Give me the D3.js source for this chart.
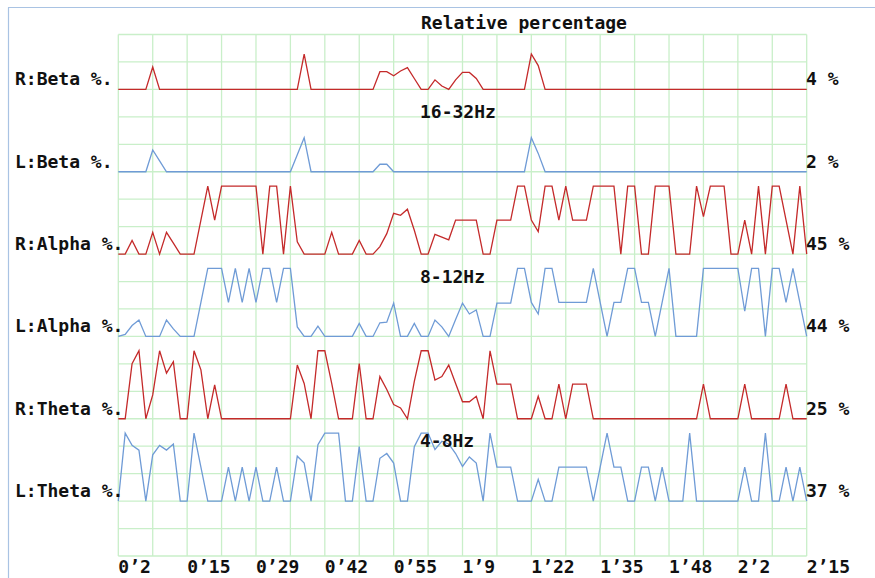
<!DOCTYPE html>
<html>
<head>
	<meta charset="UTF-8" />
	<title>relative percentage</title>
	<script src="https://d3js.org/d3.v7.min.js"></script>
	<style>
		body { margin: 0; background: #fff; }
		text { font-family: "DejaVu Sans Mono", monospace; font-weight: bold; font-size: 18px; fill: #111; }
	</style>
</head>
<body>
	<svg id="chart" width="875" height="578"></svg>

	<script type="text/javascript">
	// colors
	red = "#c42a2a"
	blue = "#6f9bd6"
	gridGreen = "#c9efc9"
	frameBlue = "#a9c3e3"

	// data: relative level of each band, 101 samples (0 = baseline, 100 = top of band)
	var rBeta = [0,0,0,0,0,33,0,0,0,0, 0,0,0,0,0,0,0,0,0,0, 0,0,0,0,0,0,0,52,0,0, 0,0,0,0,0,0,0,0,26,26,
		20,27,32,16,0,0,14,5,0,14, 25,25,16,0,0,0,0,0,0,0, 52,35,0,0,0,0,0,0,0,0, 0,0,0,0,0,0,0,0,0,0,
		0,0,0,0,0,0,0,0,0,0, 0,0,0,0,0,0,0,0,0,0, 0]
	var lBeta = [0,0,0,0,0,32,16,0,0,0, 0,0,0,0,0,0,0,0,0,0, 0,0,0,0,0,0,25,50,0,0, 0,0,0,0,0,0,0,0,11,11,
		0,0,0,0,0,0,0,0,0,0, 0,0,0,0,0,0,0,0,0,0, 50,27,0,0,0,0,0,0,0,0, 0,0,0,0,0,0,0,0,0,0,
		0,0,0,0,0,0,0,0,0,0, 0,0,0,0,0,0,0,0,0,0, 0]
	var rAlpha = [0,0,20,0,0,32,0,32,16,0, 0,0,50,100,50,100,100,100,100,100, 100,0,100,100,0,100,18,0,0,0,
		0,32,0,0,0,20,0,0,11,30, 60,57,66,35,0,0,29,25,21,50, 50,50,50,0,0,50,50,50,100,100,
		50,33,100,100,50,100,50,50,50,100, 100,100,100,0,100,100,0,0,100,100, 100,0,0,0,100,55,100,100,100,0,
		0,50,0,100,0,100,100,50,0,100, 0]
	var lAlpha = [0,3,16,24,0,0,0,24,11,0, 0,0,50,100,100,100,50,100,50,100, 50,100,100,50,100,100,14,0,0,15,
		0,0,0,0,0,19,0,0,20,21, 49,0,0,19,0,0,24,14,0,25, 49,33,39,0,0,49,49,49,100,100,
		50,33,100,100,50,50,50,50,50,100, 50,0,50,50,100,100,50,50,0,50, 100,0,0,0,0,100,100,100,100,100,
		100,37,100,100,0,100,100,50,100,50, 0]
	var rTheta = [0,0,81,100,0,35,100,67,84,0, 0,100,72,0,50,0,0,0,0,0, 0,0,0,0,0,0,79,52,0,100,
		100,52,0,0,0,81,0,0,62,43, 21,16,0,55,100,100,57,62,79,52, 25,25,33,0,100,51,51,51,0,0,
		0,33,0,0,51,0,51,51,51,0, 0,0,0,0,0,0,0,0,0,0, 0,0,0,0,0,51,0,0,0,0,
		0,51,0,0,0,0,0,51,0,0, 0]
	var lTheta = [0,100,82,75,0,68,82,75,84,0, 0,100,50,0,0,0,50,0,50,0, 50,0,0,50,0,0,66,56,0,83,
		100,100,100,0,0,80,0,0,63,70, 56,0,0,80,100,100,76,88,84,70, 51,65,56,0,100,50,50,50,0,0,
		0,32,0,0,50,50,50,50,50,0, 50,100,50,50,0,0,50,50,0,50, 0,0,0,100,0,0,0,0,0,0,
		0,50,0,0,100,0,0,50,0,50, 0]

	var seriesNames = ["R:Beta %.", "L:Beta %.", "R:Alpha %.", "L:Alpha %.", "R:Theta %.", "L:Theta %."]
	var seriesValues = [rBeta, lBeta, rAlpha, lAlpha, rTheta, lTheta]
	var seriesColors = [red, blue, red, blue, red, blue]
	var rightLabels = ["4 %", "2 %", "45 %", "44 %", "25 %", "37 %"]
	var bandLabels = ["16-32Hz", "8-12Hz", "4-8Hz"]
	var timeLabels = ["0’2", "0’15", "0’29", "0’42", "0’55", "1’9", "1’22", "1’35", "1’48", "2’2", "2’15"]

	var svg = d3.select("#chart")

	// scales
	var xScale = d3.scaleLinear().domain([0, 100]).range([118.3, 806.7])
	var rowScale = d3.scaleLinear().domain([0, 19]).range([34.5, 556])
	var bandHeight = 68

	// frame (top + left edge of the window)
	svg.append("line").attr("x1", 8).attr("x2", 875).attr("y1", 7.5).attr("y2", 7.5)
		.style("stroke", frameBlue).style("stroke-width", 1.2)
	svg.append("line").attr("x1", 8.5).attr("x2", 8.5).attr("y1", 7.5).attr("y2", 578)
		.style("stroke", frameBlue).style("stroke-width", 1.2)

	// grid
	var grid = svg.append("g")
	grid.selectAll("line.v")
		.data(d3.range(0, 101, 5))
		.enter()
		.append("line")
		.attr("class", "v")
		.attr("x1", d=>xScale(d)).attr("x2", d=>xScale(d))
		.attr("y1", rowScale(0)).attr("y2", rowScale(19))
		.style("stroke", gridGreen).style("stroke-width", 1.3)
	grid.selectAll("line.h")
		.data(d3.range(0, 20))
		.enter()
		.append("line")
		.attr("class", "h")
		.attr("x1", xScale(0)).attr("x2", xScale(100))
		.attr("y1", d=>rowScale(d)).attr("y2", d=>rowScale(d))
		.style("stroke", gridGreen).style("stroke-width", 1.3)

	// traces
	seriesValues.forEach((values, i) => {
		var base = rowScale(2 + 3 * i)
		var yScale = d3.scaleLinear().domain([0, 100]).range([base, base - bandHeight])
		var line = d3.line()
			.x((d, k) => xScale(k))
			.y(d => yScale(d))
		svg.append("path")
			.datum(values)
			.attr("d", line)
			.style("fill", "none")
			.style("stroke", seriesColors[i])
			.style("stroke-width", 1.3)

		svg.append("text")
			.attr("x", 15).attr("y", base - 4)
			.text(seriesNames[i])
		svg.append("text")
			.attr("x", 806).attr("y", base - 4)
			.text(rightLabels[i])
	})

	// band names
	bandLabels.forEach((t, i) => {
		svg.append("text")
			.attr("x", 420).attr("y", rowScale(3 + 6 * i) + 1)
			.text(t)
	})

	// title
	svg.append("text").attr("x", 421).attr("y", 29).text("Relative percentage")

	// time axis
	svg.selectAll("text.tick")
		.data(timeLabels)
		.enter()
		.append("text")
		.attr("class", "tick")
		.attr("x", (d, i) => xScale(i * 10))
		.attr("y", 573)
		.text(d => d)
	</script>
</body>
</html>
